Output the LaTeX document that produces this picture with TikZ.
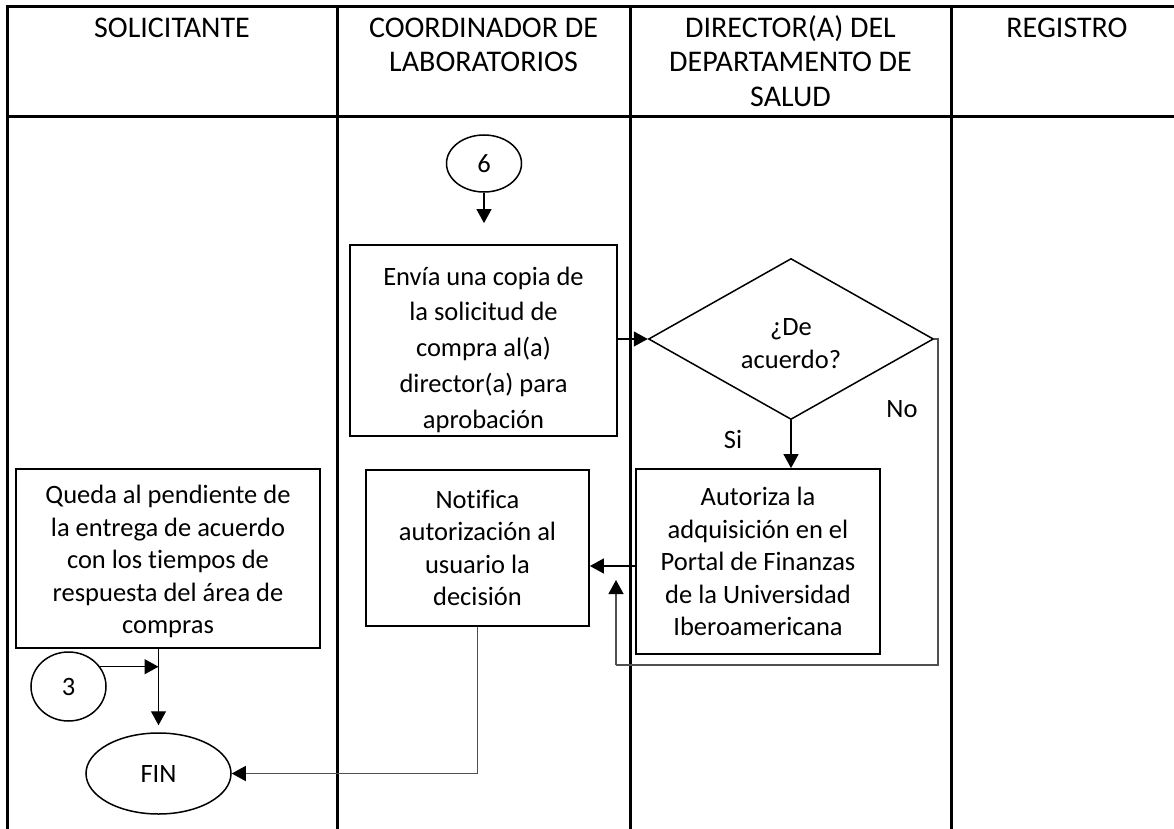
\documentclass[tikz,border=0pt]{standalone}
\usepackage{fontspec}
\setmainfont{Carlito}[Ligatures=NoCommon]
\usetikzlibrary{shapes.geometric,arrows.meta,calc}
\definecolor{conngray}{RGB}{80,80,80}
\newcommand\topstr[1]{\rule{0pt}{#1}}
\newcommand\botstr[1]{\rule[-#1]{0pt}{#1}}
\begin{document}
\begin{tikzpicture}[x=1pt,y=-1pt,
  every node/.style={font=\fontsize{26.5}{32.5}\selectfont},
  lane/.style={line width=3pt,line cap=rect},
  box/.style={draw,line width=1.8pt,align=center,inner sep=0pt},
  ell/.style={draw,ellipse,line width=1.5pt,inner sep=0pt},
  arr/.style={line width=1.3pt,-{Triangle[length=14pt,width=15pt,color=black]}},
  conn/.style={line width=1.3pt},
  gconn/.style={conn,draw=conngray},
  hdr/.style={align=center,anchor=north,inner sep=0pt,font=\fontsize{30}{34.5}\selectfont},
  lbl/.style={inner sep=0pt}]
\useasboundingbox (0,0) rectangle (1174,829);
\begin{scope}
\clip (0,0) rectangle (1174,829);
\draw[lane] (7,7) -- (1200,7);
\draw[lane] (7,117) -- (1200,117);
\foreach \x in {7,337,630,951} \draw[lane] (\x,7) -- (\x,850);
\end{scope}
% headers
\node[hdr] (h1) at (172,15) {\topstr{22pt}SOLICITANTE};
\node[hdr] (h2) at (483.5,15) {\topstr{22pt}COORDINADOR DE\\LABORATORIOS};
\node[hdr] (h3) at (790.5,15) {\topstr{22pt}DIRECTOR(A) DEL\\DEPARTAMENTO DE\\SALUD};
\node[hdr] (h4) at (1067,15) {\topstr{22pt}REGISTRO};
% shapes
\node[ell,minimum width=75pt,minimum height=57pt] (c6) at (484,163.5) {6};
\node[box,minimum width=267pt,minimum height=187pt,font=\fontsize{26.5}{35.75}\selectfont] (envia) at (483.5,340.5)
  {\topstr{40pt}Envía una copia de\\la solicitud de\\compra al(a)\\director(a) para\\aprobación\botstr{8pt}};
\node[draw,diamond,aspect=1.77,line width=1.5pt,inner sep=0pt,align=center,minimum width=285pt,minimum height=161pt] (dec) at (791,339)
  {\topstr{34pt}¿De\\acuerdo?\botstr{8pt}};
\node[box,minimum width=244pt,minimum height=185pt] (aut) at (758,561.5)
  {Autoriza la\\adquisición en el\\Portal de Finanzas\\de la Universidad\\Iberoamericana};
\node[box,minimum width=223pt,minimum height=156pt] (not) at (477.5,548)
  {Notifica\\autorización al\\usuario la\\decisión};
\node[box,minimum width=304pt,minimum height=179pt] (queda) at (168,558.5)
  {\topstr{28pt}Queda al pendiente de\\la entrega de acuerdo\\con los tiempos de\\respuesta del área de\\compras\botstr{8pt}};
\node[ell,minimum width=75pt,minimum height=69pt] (c3) at (68.5,686.5) {3};
\node[ell,minimum width=145pt,minimum height=81pt] (fin) at (158.5,773.5) {FIN};
% labels
\node[lbl] (si) at (733,439) {Si};
\node[lbl] (no) at (902,409) {No};
% connectors
\draw[arr,shorten >=21pt] (c6.south) -- (c6.south |- envia.north);
\draw[arr] (envia.east |- dec.west) -- (dec.west);
\draw[arr] (dec.south) -- (dec.south |- aut.north);
\coordinate (nr) at (938,339);
\coordinate (nb) at (938,665);
\coordinate (nl) at (616,665);
\coordinate (nt) at (616,580);
\draw[gconn] (dec.east) -- (nr) -- (nb) -- (nl);
\draw[arr,draw=conngray] (nl) -- (nt);
\draw[arr] ([yshift=-4.5pt]aut.west) -- ([yshift=-4.5pt]aut.west -| not.east);
\draw[gconn] (not.south) -- (not.south |- fin.east);
\draw[arr,draw=conngray] (not.south |- fin.east) -- (fin.east);
\draw[arr,shorten >=7pt] (queda.south -| fin.north) -- (fin.north);
\draw[arr] (c3.32) -- (c3.32 -| fin.north);
\end{tikzpicture}
\end{document}
